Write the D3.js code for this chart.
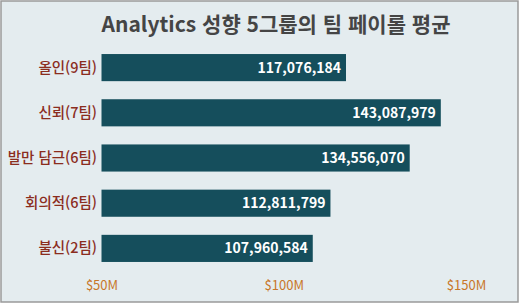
<!DOCTYPE html>
<html lang="ko">
<head>
  <meta charset="UTF-8">
  <title>Analytics 성향 5그룹의 팀 페이롤 평균</title>
  <script src="https://d3js.org/d3.v7.min.js"></script>
  <style>
    body { margin: 0; background: #fff; }
    text { font-family: "Noto Sans CJK KR", "Noto Sans", sans-serif; }
  </style>
</head>
<body>
  <div id="chart"></div>
  <script>
    // data
    const groups = ["올인(9팀)", "신뢰(7팀)", "발만 담근(6팀)", "회의적(6팀)", "불신(2팀)"];
    const payroll = [117076184, 143087979, 134556070, 112811799, 107960584];
    const tickValues = [50e6, 100e6, 150e6];
    const tickLabels = ["$50M", "$100M", "$150M"];

    const W = 520, H = 305;

    const svg = d3.select("#chart").append("svg")
      .attr("width", W)
      .attr("height", H);

    // background + frame
    svg.append("rect")
      .attr("x", 1).attr("y", 1)
      .attr("width", W - 3).attr("height", H - 4)
      .attr("fill", "#e4ecef")
      .attr("stroke", "#9a9a9a")
      .attr("stroke-width", 1.5);

    svg.append("text")
      .attr("x", 276)
      .attr("y", 32)
      .attr("text-anchor", "middle")
      .attr("font-size", 21)
      .attr("font-weight", "bold")
      .attr("fill", "#454545")
      .text("Analytics 성향 5그룹의 팀 페이롤 평균");

    const x = d3.scaleLinear()
      .domain([50e6, 150e6])
      .range([101.5, 466]);

    const y = d3.scaleBand()
      .domain(groups)
      .range([45, 271])
      .paddingInner(0.4)
      .paddingOuter(0.2);

    const data = groups.map((g, i) => ({ g, v: payroll[i] }));

    svg.selectAll(".bar")
      .data(data)
      .enter().append("rect")
      .attr("class", "bar")
      .attr("x", x(50e6))
      .attr("y", d => y(d.g))
      .attr("width", d => x(d.v) - x(50e6))
      .attr("height", y.bandwidth())
      .attr("fill", "#154e5c");

    // value labels inside bar ends
    svg.selectAll(".val")
      .data(data)
      .enter().append("text")
      .attr("class", "val")
      .attr("x", d => x(d.v) - 5)
      .attr("y", d => y(d.g) + y.bandwidth() / 2)
      .attr("dy", "0.35em")
      .attr("text-anchor", "end")
      .attr("font-size", 14)
      .attr("font-weight", "bold")
      .attr("fill", "#fff")
      .text(d => d3.format(",")(d.v));

    // category labels
    svg.selectAll(".cat")
      .data(groups)
      .enter().append("text")
      .attr("class", "cat")
      .attr("x", 97)
      .attr("y", d => y(d) + y.bandwidth() / 2)
      .attr("dy", "0.35em")
      .attr("text-anchor", "end")
      .attr("font-size", 14.5)
      .attr("font-weight", 500)
      .attr("fill", "#8b2d1e")
      .text(d => d);

    // x axis (labels only)
    const axis = svg.append("g")
      .attr("transform", "translate(0,281)")
      .call(d3.axisBottom(x)
        .tickValues(tickValues)
        .tickFormat((d, i) => tickLabels[i])
        .tickSize(0)
        .tickPadding(0));
    axis.select(".domain").remove();
    axis.selectAll("text")
      .attr("font-family", "\"Noto Sans\", sans-serif")
      .attr("font-size", 13)
      .attr("fill", "#c8772a");
  </script>
</body>
</html>
